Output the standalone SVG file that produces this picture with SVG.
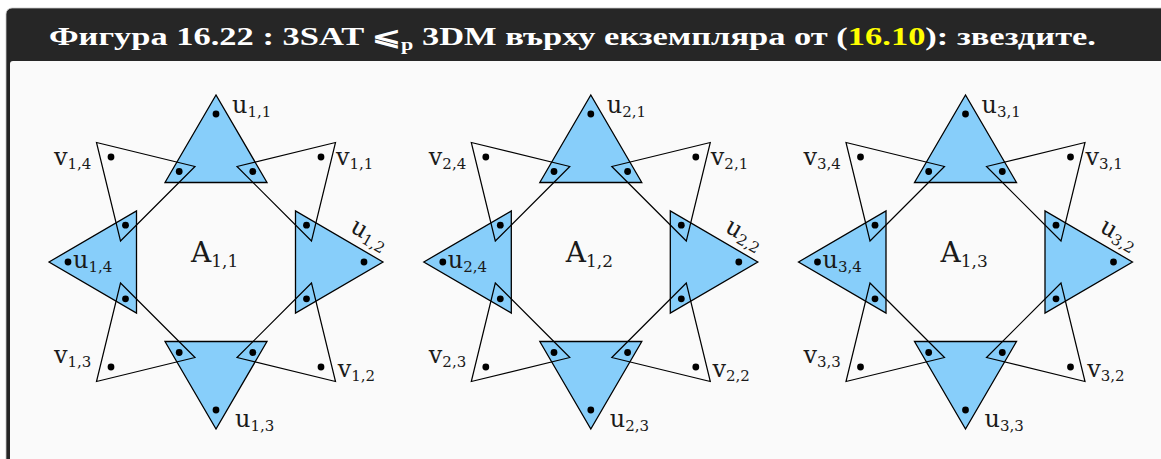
<svg xmlns="http://www.w3.org/2000/svg" width="1161" height="459" viewBox="0 0 1161 459">
<defs>
<style>
.blue{fill:#87CEFA;stroke:#000;stroke-width:1.3;stroke-linejoin:miter}
.vt{fill:none;stroke:#000;stroke-width:1.2}
.dot{fill:#000}
.lbl{font-family:"DejaVu Serif","Liberation Serif",serif;font-size:24px;fill:#1a1a1a}
.sub{font-size:15px}
.big{font-family:"DejaVu Serif","Liberation Serif",serif;font-size:28px;fill:#1a1a1a}
.bsub{font-size:17px}
.title{font-family:"Liberation Serif","DejaVu Serif",serif;font-size:25px;font-weight:bold;fill:#ffffff}
</style>
<circle id="d" r="3.4" class="dot"/>
</defs>
<rect x="0" y="0" width="1161" height="459" fill="#ffffff"/>
<g id="frame">
<rect x="6" y="8" width="1170" height="458" rx="6" fill="#262626" stroke="#c8c8c8" stroke-width="0.8"/>
<rect x="10" y="61" width="1160" height="400" rx="3" fill="#fafafa"/>
<text class="title" x="49" y="45" textLength="1047" lengthAdjust="spacingAndGlyphs">Фигура 16.22 : 3SAT ⩽<tspan font-size="16" dy="5">p</tspan><tspan dy="-5"> 3DM върху екземпляра от (</tspan><tspan fill="#ffff00">16.10</tspan>): звездите.</text>
</g>

<g id="connectors"></g>

<!-- Star 1 -->
<g id="star1" transform="translate(216,262)">
<g id="u11"><polygon class="blue" points="0,-167 -51,-79.5 51,-79.5"/></g>
<g id="u12"><polygon class="blue" points="167,0 79.5,-51 79.5,51"/></g>
<g id="u13"><polygon class="blue" points="0,167 -51,79.5 51,79.5"/></g>
<g id="u14"><polygon class="blue" points="-167,0 -79.5,-51 -79.5,51"/></g>
<g id="v11"><polygon class="vt" points="119.5,-119.5 21,-95.5 95.5,-21"/></g>
<g id="v12"><polygon class="vt" points="119.5,119.5 95.5,21 21,95.5"/></g>
<g id="v13"><polygon class="vt" points="-119.5,119.5 -21,95.5 -95.5,21"/></g>
<g id="v14"><polygon class="vt" points="-119.5,-119.5 -95.5,-21 -21,-95.5"/></g>
<g id="dots1">
<use href="#d" x="0" y="-148"/><use href="#d" x="148" y="0"/><use href="#d" x="0" y="148"/><use href="#d" x="-148" y="0"/>
<use href="#d" x="-36.8" y="-90.5"/><use href="#d" x="36.8" y="-90.5"/>
<use href="#d" x="90.5" y="-36.8"/><use href="#d" x="90.5" y="36.8"/>
<use href="#d" x="-36.8" y="90.5"/><use href="#d" x="36.8" y="90.5"/>
<use href="#d" x="-90.5" y="-36.8"/><use href="#d" x="-90.5" y="36.8"/>
<use href="#d" x="105" y="-105"/><use href="#d" x="105" y="105"/><use href="#d" x="-105" y="105"/><use href="#d" x="-105" y="-105"/>
</g>
<g id="labels1">
<text class="lbl" x="16" y="-149">u<tspan class="sub" dy="4">1,1</tspan></text>
<text class="lbl" transform="translate(133,-31) rotate(30)">u<tspan class="sub" dy="4">1,2</tspan></text>
<text class="lbl" x="19" y="164.7">u<tspan class="sub" dy="4">1,3</tspan></text>
<text class="lbl" x="-143" y="6.3">u<tspan class="sub" dy="4">1,4</tspan></text>
<text class="lbl" x="120" y="-97">v<tspan class="sub" dy="4">1,1</tspan></text>
<text class="lbl" x="121.7" y="114.7">v<tspan class="sub" dy="4">1,2</tspan></text>
<text class="lbl" x="-162" y="101">v<tspan class="sub" dy="4">1,3</tspan></text>
<text class="lbl" x="-162" y="-97">v<tspan class="sub" dy="4">1,4</tspan></text>
<text class="big" x="-25" y="0">A<tspan class="bsub" dy="5">1,1</tspan></text>
</g>
</g>

<!-- Star 2 -->
<g id="star2" transform="translate(590.8,262)">
<g id="u21"><polygon class="blue" points="0,-167 -51,-79.5 51,-79.5"/></g>
<g id="u22"><polygon class="blue" points="167,0 79.5,-51 79.5,51"/></g>
<g id="u23"><polygon class="blue" points="0,167 -51,79.5 51,79.5"/></g>
<g id="u24"><polygon class="blue" points="-167,0 -79.5,-51 -79.5,51"/></g>
<g id="v21"><polygon class="vt" points="119.5,-119.5 21,-95.5 95.5,-21"/></g>
<g id="v22"><polygon class="vt" points="119.5,119.5 95.5,21 21,95.5"/></g>
<g id="v23"><polygon class="vt" points="-119.5,119.5 -21,95.5 -95.5,21"/></g>
<g id="v24"><polygon class="vt" points="-119.5,-119.5 -95.5,-21 -21,-95.5"/></g>
<g id="dots2">
<use href="#d" x="0" y="-148"/><use href="#d" x="148" y="0"/><use href="#d" x="0" y="148"/><use href="#d" x="-148" y="0"/>
<use href="#d" x="-36.8" y="-90.5"/><use href="#d" x="36.8" y="-90.5"/>
<use href="#d" x="90.5" y="-36.8"/><use href="#d" x="90.5" y="36.8"/>
<use href="#d" x="-36.8" y="90.5"/><use href="#d" x="36.8" y="90.5"/>
<use href="#d" x="-90.5" y="-36.8"/><use href="#d" x="-90.5" y="36.8"/>
<use href="#d" x="105" y="-105"/><use href="#d" x="105" y="105"/><use href="#d" x="-105" y="105"/><use href="#d" x="-105" y="-105"/>
</g>
<g id="labels2">
<text class="lbl" x="16" y="-149">u<tspan class="sub" dy="4">2,1</tspan></text>
<text class="lbl" transform="translate(133,-31) rotate(30)">u<tspan class="sub" dy="4">2,2</tspan></text>
<text class="lbl" x="19" y="164.7">u<tspan class="sub" dy="4">2,3</tspan></text>
<text class="lbl" x="-143" y="6.3">u<tspan class="sub" dy="4">2,4</tspan></text>
<text class="lbl" x="120" y="-97">v<tspan class="sub" dy="4">2,1</tspan></text>
<text class="lbl" x="121.7" y="114.7">v<tspan class="sub" dy="4">2,2</tspan></text>
<text class="lbl" x="-162" y="101">v<tspan class="sub" dy="4">2,3</tspan></text>
<text class="lbl" x="-162" y="-97">v<tspan class="sub" dy="4">2,4</tspan></text>
<text class="big" x="-25" y="0">A<tspan class="bsub" dy="5">1,2</tspan></text>
</g>
</g>

<!-- Star 3 -->
<g id="star3" transform="translate(965.5,262)">
<g id="u31"><polygon class="blue" points="0,-167 -51,-79.5 51,-79.5"/></g>
<g id="u32"><polygon class="blue" points="167,0 79.5,-51 79.5,51"/></g>
<g id="u33"><polygon class="blue" points="0,167 -51,79.5 51,79.5"/></g>
<g id="u34"><polygon class="blue" points="-167,0 -79.5,-51 -79.5,51"/></g>
<g id="v31"><polygon class="vt" points="119.5,-119.5 21,-95.5 95.5,-21"/></g>
<g id="v32"><polygon class="vt" points="119.5,119.5 95.5,21 21,95.5"/></g>
<g id="v33"><polygon class="vt" points="-119.5,119.5 -21,95.5 -95.5,21"/></g>
<g id="v34"><polygon class="vt" points="-119.5,-119.5 -95.5,-21 -21,-95.5"/></g>
<g id="dots3">
<use href="#d" x="0" y="-148"/><use href="#d" x="148" y="0"/><use href="#d" x="0" y="148"/><use href="#d" x="-148" y="0"/>
<use href="#d" x="-36.8" y="-90.5"/><use href="#d" x="36.8" y="-90.5"/>
<use href="#d" x="90.5" y="-36.8"/><use href="#d" x="90.5" y="36.8"/>
<use href="#d" x="-36.8" y="90.5"/><use href="#d" x="36.8" y="90.5"/>
<use href="#d" x="-90.5" y="-36.8"/><use href="#d" x="-90.5" y="36.8"/>
<use href="#d" x="105" y="-105"/><use href="#d" x="105" y="105"/><use href="#d" x="-105" y="105"/><use href="#d" x="-105" y="-105"/>
</g>
<g id="labels3">
<text class="lbl" x="16" y="-149">u<tspan class="sub" dy="4">3,1</tspan></text>
<text class="lbl" transform="translate(133,-31) rotate(30)">u<tspan class="sub" dy="4">3,2</tspan></text>
<text class="lbl" x="19" y="164.7">u<tspan class="sub" dy="4">3,3</tspan></text>
<text class="lbl" x="-143" y="6.3">u<tspan class="sub" dy="4">3,4</tspan></text>
<text class="lbl" x="120" y="-97">v<tspan class="sub" dy="4">3,1</tspan></text>
<text class="lbl" x="121.7" y="114.7">v<tspan class="sub" dy="4">3,2</tspan></text>
<text class="lbl" x="-162" y="101">v<tspan class="sub" dy="4">3,3</tspan></text>
<text class="lbl" x="-162" y="-97">v<tspan class="sub" dy="4">3,4</tspan></text>
<text class="big" x="-25" y="0">A<tspan class="bsub" dy="5">1,3</tspan></text>
</g>
</g>
</svg>
